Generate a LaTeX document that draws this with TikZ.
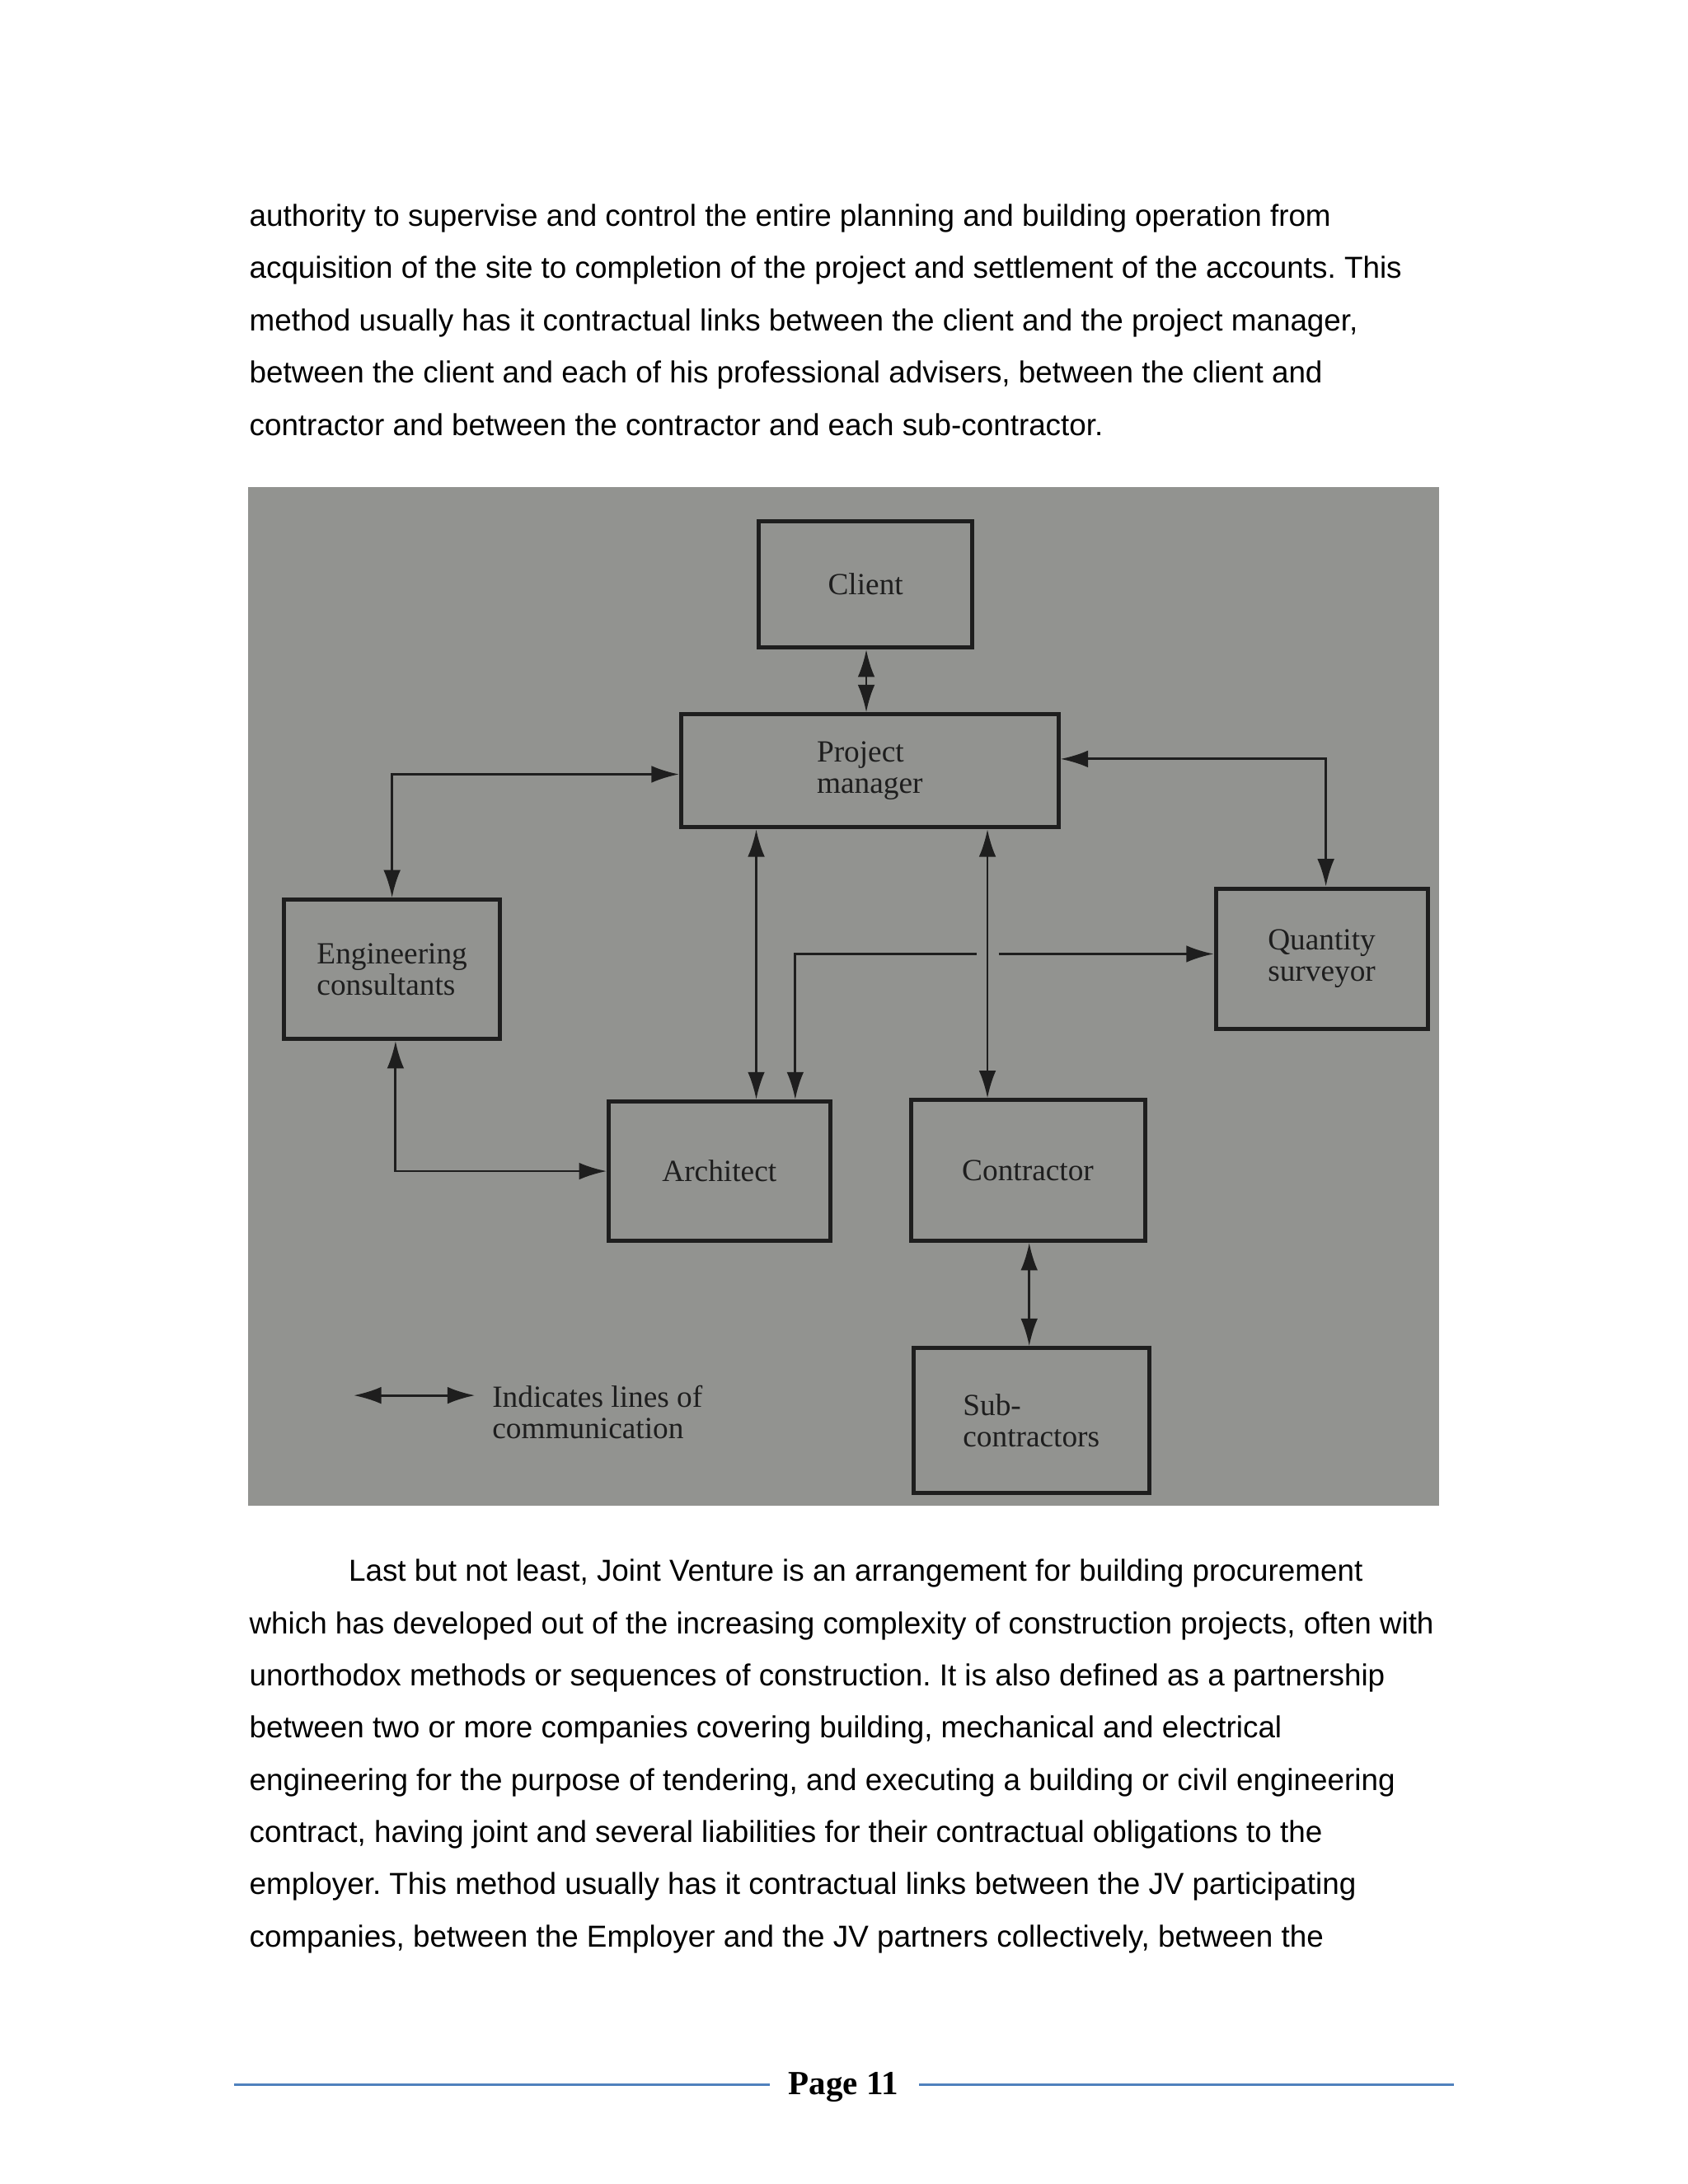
\documentclass[tikz,border=0pt]{standalone}
\usepackage{fontspec}
\usepackage{tikz}
\usetikzlibrary{arrows,arrows.meta,shapes,calc}
\usepackage{xcolor}
\newfontfamily\bodyfont{Liberation Sans}
\newfontfamily\bookfont{Liberation Serif}
\definecolor{photo}{RGB}{146,147,144}
\definecolor{ink}{RGB}{30,30,30}
\definecolor{rule}{RGB}{79,129,189}
\frenchspacing

\begin{document}
\begin{tikzpicture}[x=0.507pt, y=-0.507pt, box/.style={draw=ink, line width=1.5pt, inner sep=0pt, align=left, text=ink, font=\bookfont\fontsize{11.2}{11.3}\selectfont}, comm/.style={<->, >={Latex[length=10pt,width=6.2pt]}, draw=ink, line width=.85pt}, para/.style={anchor=base west, inner sep=0pt, font=\bodyfont\fontsize{11.05}{13}\selectfont}]
\useasboundingbox (0,0) rectangle (1212,1568.3);
\node[para] (t1) at (178.7,162.5) {authority to supervise and control the entire planning and building operation from};
\node[para] (t2) at (178.7,200) {acquisition of the site to completion of the project and settlement of the accounts. This};
\node[para] (t3) at (178.7,237.5) {method usually has it contractual links between the client and the project manager,};
\node[para] (t4) at (178.7,275) {between the client and each of his professional advisers, between the client and};
\node[para] (t5) at (178.7,312.5) {contractor and between the contractor and each sub-contractor.};
\fill[photo] (178,350) rectangle (1033,1081);
\node[box, minimum width=77.6pt, minimum height=46.1pt] (1) at (621.5,419.5) {Client};
\node[box, minimum width=137.4pt, minimum height=41.1pt] (2) at (624.5,553.5) {Project\\manager};
\node[box, minimum width=78.6pt, minimum height=50.7pt] (3) at (281.5,696) {Engineering\\consultants};
\node[box, minimum width=77.1pt, minimum height=51.2pt] (4) at (949,688.5) {Quantity\\surveyor};
\node[box, minimum width=80.6pt, minimum height=50.7pt] (5) at (516.5,841) {Architect};
\node[box, minimum width=85.2pt, minimum height=51.2pt] (6) at (738,840.5) {Contractor};
\node[box, minimum width=85.7pt, minimum height=52.7pt] (7) at (740.5,1020) {Sub-\\contractors};
\draw[comm] (622,0 |- 1.south) -- (622,0 |- 2.north);
\draw[comm] (2.west |- 0,556) -| (3.north);
\draw[comm] (2.east |- 0,545) -| (952,0 |- 4.north);
\draw[comm] (543,0 |- 2.south) -- (543,0 |- 5.north);
\draw[comm] (709,0 |- 2.south) -- (709,0 |- 6.north);
\coordinate (h1) at (701,685);
\coordinate (h2) at (717,685);
\draw[comm, <-] (571,0 |- 5.north) |- (h1);
\draw[comm, ->] (h2) -- (4.west |- h2);
\draw[comm] (284,0 |- 3.south) |- (5.west);
\draw[comm] (739,0 |- 6.south) -- (739,0 |- 7.north);
\coordinate (a) at (254,1002);
\coordinate (b) at (341,1002);
\draw[comm] (a) -- (b);
\node[box, draw=none, anchor=west] (8) at (352,1014) {Indicates lines of\\communication};
\node[para] (b1) at (250,1135.5) {Last but not least, Joint Venture is an arrangement for building procurement};
\node[para] (b2) at (178.7,1173) {which has developed out of the increasing complexity of construction projects, often with};
\node[para] (b3) at (178.7,1210.5) {unorthodox methods or sequences of construction. It is also defined as a partnership};
\node[para] (b4) at (178.7,1248) {between two or more companies covering building, mechanical and electrical};
\node[para] (b5) at (178.7,1285.5) {engineering for the purpose of tendering, and executing a building or civil engineering};
\node[para] (b6) at (178.7,1323) {contract, having joint and several liabilities for their contractual obligations to the};
\node[para] (b7) at (178.7,1360.5) {employer. This method usually has it contractual links between the JV participating};
\node[para] (b8) at (178.7,1398) {companies, between the Employer and the JV partners collectively, between the};
\node[anchor=base, inner sep=0pt, font=\bookfont\bfseries\fontsize{12.3}{14}\selectfont] (9) at (605.5,1504) {Page 11};
\draw[rule, line width=1pt] (168,1497) -- (553,1497);
\draw[rule, line width=1pt] (660,1497) -- (1044,1497);
\end{tikzpicture}
\end{document}
